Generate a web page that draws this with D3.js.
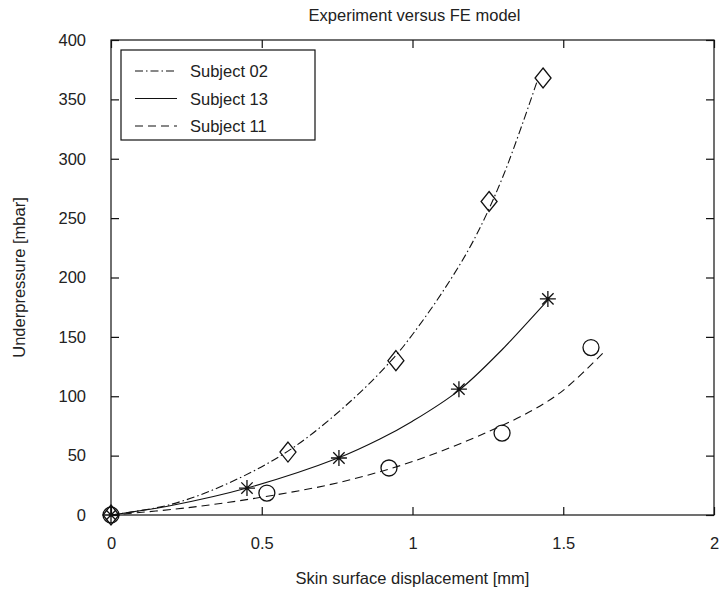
<!DOCTYPE html>
<html>
<head>
<meta charset="utf-8">
<script src="https://cdn.jsdelivr.net/npm/d3@7"></script>
<style>
  html, body { margin: 0; padding: 0; background: #fff; }
  svg { display: block; font-family: "Liberation Sans", Arial, Helvetica, sans-serif; }
</style>
</head>
<body>
<svg id="chart" width="721" height="594"></svg>
<script>
// Measured points (markers)
const s02X = [0, 0.587, 0.945, 1.254, 1.433];
const s02Y = [0, 53, 130, 264, 368];
const s13X = [0, 0.451, 0.756, 1.154, 1.449];
const s13Y = [0, 22.7, 48, 106, 182];
const s11X = [0, 0.517, 0.922, 1.297, 1.592];
const s11Y = [0, 18.5, 39.6, 69, 141];

// FE model curves
const m02X = [0, 0.2, 0.4, 0.6, 0.8, 0.94, 1.0, 1.1, 1.2, 1.3, 1.413];
const m02Y = [0, 9, 28, 56, 97, 133, 152, 188, 230, 285, 365];
const m13X = [0, 0.2, 0.451, 0.753, 0.892, 1.0, 1.154, 1.3, 1.449];
const m13Y = [0, 8, 22.7, 48, 64, 79, 105, 140, 181];
const m11X = [0, 0.25, 0.5, 0.75, 1.0, 1.25, 1.4, 1.5, 1.638];
const m11Y = [0, 6, 15, 27, 45, 70, 88.5, 105, 138];

const seriesNames = ["Subject 02", "Subject 13", "Subject 11"];
const xTicks = [0, 0.5, 1, 1.5, 2];
const xTickLabels = ["0", "0.5", "1", "1.5", "2"];
const yTicks = [0, 50, 100, 150, 200, 250, 300, 350, 400];

const svg = d3.select("#chart");
const L = 111, R = 714, T = 40, B = 515;
const x = d3.scaleLinear().domain([0, 2]).range([L, R]);
const y = d3.scaleLinear().domain([0, 400]).range([B, T]);
const ink = "#111";
const fs = 16.5;

// Frame
svg.append("rect").attr("x", L).attr("y", T).attr("width", R - L).attr("height", B - T)
  .attr("fill", "none").attr("stroke", ink).attr("stroke-width", 1.2);

// Axes with inward ticks on all four sides
const tl = 8;
const axisStyle = g => {
  g.select(".domain").remove();
  g.selectAll("line").attr("stroke", ink).attr("stroke-width", 1.2);
  g.selectAll("text").attr("fill", "#222").attr("font-size", fs)
    .attr("font-family", "'Liberation Sans', Arial, sans-serif");
};
svg.append("g").attr("transform", `translate(0,${B})`)
  .call(d3.axisBottom(x).tickValues(xTicks).tickFormat((d, i) => xTickLabels[i])
    .tickSizeInner(-tl).tickSizeOuter(0).tickPadding(22))
  .call(axisStyle);
svg.append("g").attr("transform", `translate(0,${T})`)
  .call(d3.axisTop(x).tickValues(xTicks).tickFormat("").tickSizeInner(-tl).tickSizeOuter(0))
  .call(axisStyle);
svg.append("g").attr("transform", `translate(${L},0)`)
  .call(d3.axisLeft(y).tickValues(yTicks).tickFormat(d3.format("d"))
    .tickSizeInner(-tl).tickSizeOuter(0).tickPadding(25))
  .call(axisStyle);
svg.append("g").attr("transform", `translate(${R},0)`)
  .call(d3.axisRight(y).tickValues(yTicks).tickFormat("").tickSizeInner(-tl).tickSizeOuter(0))
  .call(axisStyle);

// Titles
svg.append("text").attr("x", (L + R) / 2 + 2).attr("y", 21).attr("text-anchor", "middle")
  .attr("font-size", fs).attr("fill", "#222").text("Experiment versus FE model");
svg.append("text").attr("x", (L + R) / 2).attr("y", 584).attr("text-anchor", "middle")
  .attr("font-size", fs).attr("fill", "#222").text("Skin surface displacement [mm]");
svg.append("text").attr("transform", `translate(25,${(T + B) / 2}) rotate(-90)`)
  .attr("text-anchor", "middle").attr("font-size", fs).attr("fill", "#222")
  .text("Underpressure [mbar]");

// Model curves
const dashes = ["8,3,1.5,3", null, "8,5"];
const line = d3.line().x(d => x(d[0])).y(d => y(d[1])).curve(d3.curveCatmullRom.alpha(0.5));
const models = [d3.zip(m02X, m02Y), d3.zip(m13X, m13Y), d3.zip(m11X, m11Y)];
models.forEach((m, i) => {
  svg.append("path").datum(m).attr("d", line).attr("fill", "none")
    .attr("stroke", ink).attr("stroke-width", 1.1)
    .attr("stroke-dasharray", dashes[i]);
});

// Experimental markers
const g = svg.append("g").attr("fill", "none").attr("stroke", ink).attr("stroke-width", 1.3);
d3.zip(s02X, s02Y).forEach(([a, b]) => {
  g.append("path").attr("transform", `translate(${x(a)},${y(b)})`)
    .attr("d", "M0,-10L8,0L0,10L-8,0Z");
});
d3.zip(s13X, s13Y).forEach(([a, b]) => {
  const r = 8, q = 5.7;
  g.append("path").attr("transform", `translate(${x(a)},${y(b)})`)
    .attr("d", `M0,${-r}V${r}M${-r},0H${r}M${-q},${-q}L${q},${q}M${-q},${q}L${q},${-q}`);
});
d3.zip(s11X, s11Y).forEach(([a, b]) => {
  g.append("circle").attr("cx", x(a)).attr("cy", y(b)).attr("r", 8);
});

// Legend
const lg = svg.append("g");
lg.append("rect").attr("x", 121).attr("y", 50).attr("width", 194).attr("height", 90)
  .attr("fill", "#fff").attr("stroke", ink).attr("stroke-width", 1.2);
seriesNames.forEach((n, i) => {
  const yy = 71 + i * 27.5;
  lg.append("line").attr("x1", 135).attr("x2", 177).attr("y1", yy).attr("y2", yy)
    .attr("stroke", ink).attr("stroke-width", 1.1).attr("stroke-dasharray", dashes[i]);
  lg.append("text").attr("x", 190).attr("y", yy + 6).attr("font-size", fs)
    .attr("fill", "#222").text(n);
});
</script>
</body>
</html>
